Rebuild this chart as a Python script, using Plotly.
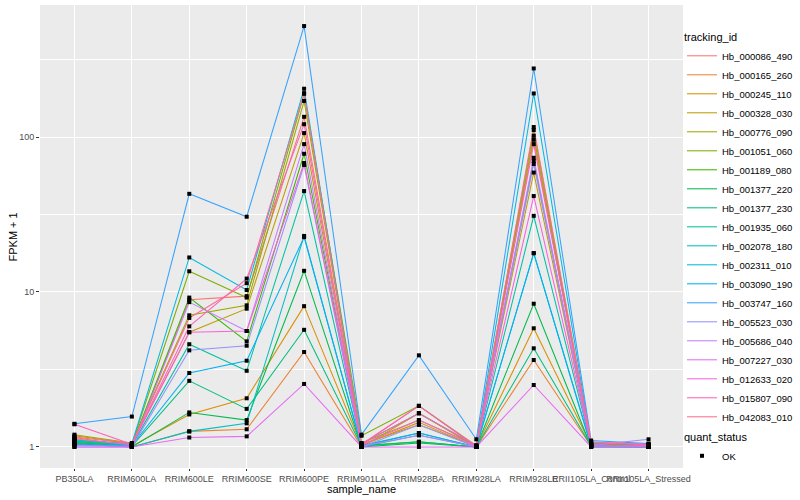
import plotly.graph_objects as go

samples = ["PB350LA", "RRIM600LA", "RRIM600LE", "RRIM600SE", "RRIM600PE", "RRIM901LA",
           "RRIM928BA", "RRIM928LA", "RRIM928LE", "RRII105LA_Control", "RRII105LA_Stressed"]

tracking_ids = ["Hb_000086_490", "Hb_000165_260", "Hb_000245_110", "Hb_000328_030", "Hb_000776_090",
                "Hb_001051_060", "Hb_001189_080", "Hb_001377_220", "Hb_001377_230", "Hb_001935_060",
                "Hb_002078_180", "Hb_002311_010", "Hb_003090_190", "Hb_003747_160", "Hb_005523_030",
                "Hb_005686_040", "Hb_007227_030", "Hb_012633_020", "Hb_015807_090", "Hb_042083_010"]

colors = ["#F8766D", "#EA8331", "#D89000", "#C09B00", "#A3A500", "#7CAE00", "#39B600", "#00BB4E",
          "#00BF7D", "#00C1A3", "#00BFC4", "#00BAE0", "#00B0F6", "#35A2FF", "#9590FF", "#C77CFF",
          "#E76BF3", "#FA62DB", "#FF62BC", "#FF6C91"]

# FPKM + 1 per gene, in the order of `samples`
Hb_000086_490 = [1.06, 1.02, 8.9, 9.4, 135, 1.03, 1.84, 1.00, 96, 1.02, 1.01]
Hb_000165_260 = [1.12, 1.00, 1.26, 1.30, 4.1, 1.00, 1.65, 1.00, 3.64, 1.01, 1.00]
Hb_000245_110 = [1.15, 1.01, 1.62, 2.06, 8.1, 1.02, 1.44, 1.00, 5.83, 1.02, 1.00]
Hb_000328_030 = [1.18, 1.05, 5.5, 7.8, 106, 1.04, 1.39, 1.01, 59, 1.03, 1.02]
Hb_000776_090 = [1.20, 1.06, 7.07, 8.2, 171, 1.06, 1.49, 1.02, 102, 1.04, 1.03]
Hb_001051_060 = [1.10, 1.04, 13.6, 9.2, 190, 1.18, 1.84, 1.02, 111, 1.05, 1.03]
Hb_001189_080 = [1.08, 1.03, 9.2, 4.8, 78, 1.02, 1.08, 1.00, 70, 1.02, 1.01]
Hb_001377_220 = [1.05, 1.00, 1.67, 1.49, 13.7, 1.00, 1.06, 1.00, 8.4, 1.00, 1.00]
Hb_001377_230 = [1.07, 1.01, 2.67, 1.76, 5.7, 1.01, 1.08, 1.00, 4.33, 1.01, 1.00]
Hb_001935_060 = [1.09, 1.02, 4.6, 3.1, 44.8, 1.02, 1.23, 1.00, 31, 1.02, 1.02]
Hb_002078_180 = [1.04, 1.00, 1.26, 1.42, 23, 1.00, 1.19, 1.00, 17.8, 1.00, 1.00]
Hb_002311_010 = [1.11, 1.05, 16.7, 10.3, 205, 1.05, 1.65, 1.02, 191, 1.06, 1.04]
Hb_003090_190 = [1.03, 1.02, 3.0, 3.6, 22.6, 1.01, 1.23, 1.00, 17.8, 1.02, 1.01]
Hb_003747_160 = [1.41, 1.57, 43, 30.6, 520, 1.20, 3.9, 1.12, 277, 1.10, 1.05]
Hb_005523_030 = [1.00, 1.00, 4.2, 4.5, 66, 1.00, 1.39, 1.00, 67, 1.02, 1.12]
Hb_005686_040 = [1.02, 1.01, 8.6, 5.6, 90, 1.01, 1.19, 1.00, 73.5, 1.01, 1.01]
Hb_007227_030 = [1.00, 1.00, 1.15, 1.17, 2.55, 1.00, 1.00, 1.00, 2.51, 1.00, 1.00]
Hb_012633_020 = [1.13, 1.03, 5.5, 5.6, 68, 1.03, 1.49, 1.01, 41.6, 1.03, 1.02]
Hb_015807_090 = [1.40, 1.04, 6.0, 12.2, 121, 1.04, 1.84, 1.01, 90, 1.08, 1.03]
Hb_042083_010 = [1.16, 1.05, 6.8, 11.4, 192, 1.05, 1.65, 1.02, 116, 1.07, 1.04]

values = [Hb_000086_490, Hb_000165_260, Hb_000245_110, Hb_000328_030, Hb_000776_090,
          Hb_001051_060, Hb_001189_080, Hb_001377_220, Hb_001377_230, Hb_001935_060,
          Hb_002078_180, Hb_002311_010, Hb_003090_190, Hb_003747_160, Hb_005523_030,
          Hb_005686_040, Hb_007227_030, Hb_012633_020, Hb_015807_090, Hb_042083_010]

y_ticks = [1, 10, 100]
y_minor = [10 ** 0.5, 10 ** 1.5, 10 ** 2.5]
quant_status = "OK"

FONT = "Liberation Sans, Arial, sans-serif"

fig = go.Figure()
for tid, col, vals in zip(tracking_ids, colors, values):
    fig.add_trace(go.Scatter(x=samples, y=vals, mode="lines", name=tid,
                             line=dict(color=col, width=1.05), legend="legend"))

all_x, all_y = [], []
for vals in values:
    all_x += samples
    all_y += vals
fig.add_trace(go.Scatter(x=all_x, y=all_y, mode="markers", name=quant_status,
                         marker=dict(symbol="square", size=4, color="black"),
                         legend="legend2"))

fig.update_layout(
    width=800, height=500,
    margin=dict(l=40, r=117, t=5, b=32, autoexpand=False),
    paper_bgcolor="white", plot_bgcolor="#EBEBEB",
    font=dict(family=FONT, color="black"),
    xaxis=dict(type="category", categoryorder="array", categoryarray=samples,
               range=[-0.6, len(samples) - 0.4], showgrid=True, gridcolor="white",
               gridwidth=1.07, zeroline=False, showline=False, ticks="outside",
               ticklen=2, tickcolor="#333333", tickwidth=1, tickangle=0,
               tickfont=dict(size=9, color="#4D4D4D"), automargin=False),
    yaxis=dict(type="log", range=[-0.136, 2.852], tickvals=y_ticks,
               ticktext=[str(v) for v in y_ticks], showgrid=True, gridcolor="white",
               gridwidth=1.07, zeroline=False, showline=False, ticks="outside",
               ticklen=3, tickcolor="#333333", tickwidth=1,
               tickfont=dict(size=9, color="#4D4D4D"), automargin=False,
               minor=dict(tickvals=y_minor, showgrid=True, gridcolor="white",
                          gridwidth=0.55, ticks="")),
    annotations=[
        dict(text="sample_name", xref="paper", yref="paper", x=0.5, y=-0.046,
             xanchor="center", yanchor="middle", showarrow=False,
             font=dict(size=11, color="black")),
        dict(text="FPKM + 1", xref="paper", yref="paper", x=-0.042, y=0.5,
             xanchor="center", yanchor="middle", textangle=-90, showarrow=False,
             font=dict(size=11, color="black")),
    ],
    legend=dict(title=dict(text="tracking_id", font=dict(size=11)),
                xref="container", yref="container",
                x=682 / 800, xanchor="left", y=1 - 27 / 500, yanchor="top",
                font=dict(size=9.5), bgcolor="rgba(0,0,0,0)", itemwidth=30,
                tracegroupgap=0, maxheight=470),
    legend2=dict(title=dict(text="quant_status", font=dict(size=11)),
                 xref="container", yref="container",
                 x=682 / 800, xanchor="left", y=1 - 427 / 500, yanchor="top",
                 font=dict(size=9.5), bgcolor="rgba(0,0,0,0)", itemwidth=30,
                 maxheight=100),
)

fig.write_html("out.html", config={"displayModeBar": False},
               post_script="document.body.style.margin='0px';document.body.style.overflow='hidden';")
